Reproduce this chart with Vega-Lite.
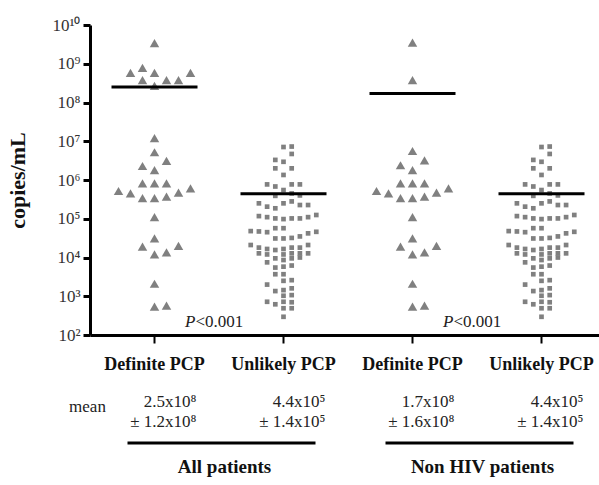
{
  "$schema": "https://vega.github.io/schema/vega-lite/v6.json",
  "autosize": {"type": "none"},
  "padding": {"left": 90, "top": 25, "right": 0, "bottom": 150},
  "width": 516,
  "height": 310,
  "background": "white",
  "config": {"view": {"stroke": null}, "font": "Liberation Serif"},
  "datasets": {
    "tri": [
      {"cat": "Def-All", "v": 3.4e9, "col": 0},
      {"cat": "Def-All", "v": 7.8e8, "col": -1},
      {"cat": "Def-All", "v": 5.8e8, "col": -2},
      {"cat": "Def-All", "v": 5.8e8, "col": 0},
      {"cat": "Def-All", "v": 5.8e8, "col": 3},
      {"cat": "Def-All", "v": 3.8e8, "col": -1},
      {"cat": "Def-All", "v": 3.8e8, "col": 1},
      {"cat": "Def-All", "v": 3.8e8, "col": 2},
      {"cat": "Def-All", "v": 2.7e8, "col": 0},
      {"cat": "Def-All", "v": 1.2e7, "col": 0},
      {"cat": "Def-All", "v": 5.2e6, "col": 0},
      {"cat": "Def-All", "v": 2.3e6, "col": -1},
      {"cat": "Def-All", "v": 3.1e6, "col": 1},
      {"cat": "Def-All", "v": 1.8e6, "col": 0},
      {"cat": "Def-All", "v": 8.2e5, "col": -1},
      {"cat": "Def-All", "v": 8.2e5, "col": 0},
      {"cat": "Def-All", "v": 8.2e5, "col": 1},
      {"cat": "Def-All", "v": 5.2e5, "col": -3},
      {"cat": "Def-All", "v": 4.5e5, "col": -2},
      {"cat": "Def-All", "v": 3.4e5, "col": -1},
      {"cat": "Def-All", "v": 3.4e5, "col": 0},
      {"cat": "Def-All", "v": 3.7e5, "col": 1},
      {"cat": "Def-All", "v": 4.7e5, "col": 2},
      {"cat": "Def-All", "v": 6.1e5, "col": 3},
      {"cat": "Def-All", "v": 1.1e5, "col": 0},
      {"cat": "Def-All", "v": 3.1e4, "col": 0},
      {"cat": "Def-All", "v": 1.9e4, "col": -1},
      {"cat": "Def-All", "v": 1.2e4, "col": 0},
      {"cat": "Def-All", "v": 1.36e4, "col": 1},
      {"cat": "Def-All", "v": 2.0e4, "col": 2},
      {"cat": "Def-All", "v": 2.1e3, "col": 0},
      {"cat": "Def-All", "v": 5.4e2, "col": 0},
      {"cat": "Def-All", "v": 5.7e2, "col": 1},
      {"cat": "Def-NH", "v": 3.5e9, "col": 0},
      {"cat": "Def-NH", "v": 3.8e8, "col": 0},
      {"cat": "Def-NH", "v": 5.6e6, "col": 0},
      {"cat": "Def-NH", "v": 2.4e6, "col": -1},
      {"cat": "Def-NH", "v": 3.2e6, "col": 1},
      {"cat": "Def-NH", "v": 1.8e6, "col": 0},
      {"cat": "Def-NH", "v": 8.2e5, "col": -1},
      {"cat": "Def-NH", "v": 8.2e5, "col": 0},
      {"cat": "Def-NH", "v": 8.2e5, "col": 1},
      {"cat": "Def-NH", "v": 5.2e5, "col": -3},
      {"cat": "Def-NH", "v": 4.5e5, "col": -2},
      {"cat": "Def-NH", "v": 3.4e5, "col": -1},
      {"cat": "Def-NH", "v": 3.4e5, "col": 0},
      {"cat": "Def-NH", "v": 3.7e5, "col": 1},
      {"cat": "Def-NH", "v": 4.7e5, "col": 2},
      {"cat": "Def-NH", "v": 6.1e5, "col": 3},
      {"cat": "Def-NH", "v": 1.1e5, "col": 0},
      {"cat": "Def-NH", "v": 3.1e4, "col": 0},
      {"cat": "Def-NH", "v": 1.9e4, "col": -1},
      {"cat": "Def-NH", "v": 1.2e4, "col": 0},
      {"cat": "Def-NH", "v": 1.36e4, "col": 1},
      {"cat": "Def-NH", "v": 2.0e4, "col": 2},
      {"cat": "Def-NH", "v": 2.1e3, "col": 0},
      {"cat": "Def-NH", "v": 5.4e2, "col": 0},
      {"cat": "Def-NH", "v": 5.7e2, "col": 1}
    ],
    "sq": [
      {"cat": "Unl-All", "v": 7.1e6, "col": 0}, {"cat": "Unl-All", "v": 7.3e6, "col": 1},
      {"cat": "Unl-All", "v": 4.7e6, "col": 1},
      {"cat": "Unl-All", "v": 3.3e6, "col": -1}, {"cat": "Unl-All", "v": 2.95e6, "col": 0},
      {"cat": "Unl-All", "v": 2.0e6, "col": -1}, {"cat": "Unl-All", "v": 2.0e6, "col": 1},
      {"cat": "Unl-All", "v": 1.35e6, "col": 0},
      {"cat": "Unl-All", "v": 7.7e5, "col": -2}, {"cat": "Unl-All", "v": 6.8e5, "col": -1}, {"cat": "Unl-All", "v": 7.7e5, "col": 1}, {"cat": "Unl-All", "v": 7.7e5, "col": 2},
      {"cat": "Unl-All", "v": 5.5e5, "col": 0}, {"cat": "Unl-All", "v": 3.9e5, "col": -1}, {"cat": "Unl-All", "v": 4.5e5, "col": 1}, {"cat": "Unl-All", "v": 4.0e5, "col": 2},
      {"cat": "Unl-All", "v": 2.5e5, "col": -3}, {"cat": "Unl-All", "v": 2.05e5, "col": -2}, {"cat": "Unl-All", "v": 1.86e5, "col": -1}, {"cat": "Unl-All", "v": 2.5e5, "col": 0}, {"cat": "Unl-All", "v": 2.8e5, "col": 1}, {"cat": "Unl-All", "v": 2.26e5, "col": 2}, {"cat": "Unl-All", "v": 2.26e5, "col": 3},
      {"cat": "Unl-All", "v": 1.17e5, "col": -3}, {"cat": "Unl-All", "v": 1.1e5, "col": -2}, {"cat": "Unl-All", "v": 1.02e5, "col": -1}, {"cat": "Unl-All", "v": 9.8e4, "col": 0}, {"cat": "Unl-All", "v": 1.02e5, "col": 1}, {"cat": "Unl-All", "v": 1.02e5, "col": 2}, {"cat": "Unl-All", "v": 1.1e5, "col": 3}, {"cat": "Unl-All", "v": 1.25e5, "col": 4},
      {"cat": "Unl-All", "v": 4.8e4, "col": -4}, {"cat": "Unl-All", "v": 4.7e4, "col": -3}, {"cat": "Unl-All", "v": 4.5e4, "col": -2}, {"cat": "Unl-All", "v": 5.7e4, "col": -1}, {"cat": "Unl-All", "v": 5.7e4, "col": 0},
      {"cat": "Unl-All", "v": 3.1e4, "col": -1}, {"cat": "Unl-All", "v": 3.1e4, "col": 0}, {"cat": "Unl-All", "v": 3.2e4, "col": 1}, {"cat": "Unl-All", "v": 3.5e4, "col": 2}, {"cat": "Unl-All", "v": 4.2e4, "col": 3}, {"cat": "Unl-All", "v": 4.6e4, "col": 4},
      {"cat": "Unl-All", "v": 2.1e4, "col": -4}, {"cat": "Unl-All", "v": 1.8e4, "col": -3}, {"cat": "Unl-All", "v": 1.66e4, "col": -2}, {"cat": "Unl-All", "v": 1.56e4, "col": -1}, {"cat": "Unl-All", "v": 1.66e4, "col": 0}, {"cat": "Unl-All", "v": 1.8e4, "col": 1}, {"cat": "Unl-All", "v": 1.8e4, "col": 2}, {"cat": "Unl-All", "v": 2.1e4, "col": 3},
      {"cat": "Unl-All", "v": 1.28e4, "col": -3}, {"cat": "Unl-All", "v": 1.2e4, "col": -2}, {"cat": "Unl-All", "v": 1.2e4, "col": 0}, {"cat": "Unl-All", "v": 1.28e4, "col": 1}, {"cat": "Unl-All", "v": 1.28e4, "col": 2}, {"cat": "Unl-All", "v": 1.28e4, "col": 3},
      {"cat": "Unl-All", "v": 7.5e3, "col": -2}, {"cat": "Unl-All", "v": 9.5e3, "col": -1}, {"cat": "Unl-All", "v": 8.6e3, "col": 0}, {"cat": "Unl-All", "v": 9.5e3, "col": 1}, {"cat": "Unl-All", "v": 1.0e4, "col": 2},
      {"cat": "Unl-All", "v": 5.5e3, "col": -1}, {"cat": "Unl-All", "v": 5.8e3, "col": 0}, {"cat": "Unl-All", "v": 6.2e3, "col": 1},
      {"cat": "Unl-All", "v": 3.7e3, "col": -1}, {"cat": "Unl-All", "v": 3.7e3, "col": 0},
      {"cat": "Unl-All", "v": 2.5e3, "col": 0}, {"cat": "Unl-All", "v": 2.6e3, "col": 1},
      {"cat": "Unl-All", "v": 2.0e3, "col": -2},
      {"cat": "Unl-All", "v": 1.36e3, "col": -1}, {"cat": "Unl-All", "v": 1.44e3, "col": 0}, {"cat": "Unl-All", "v": 1.6e3, "col": 1},
      {"cat": "Unl-All", "v": 1.03e3, "col": 0}, {"cat": "Unl-All", "v": 1.07e3, "col": 1},
      {"cat": "Unl-All", "v": 7.2e2, "col": -2}, {"cat": "Unl-All", "v": 6.2e2, "col": -1}, {"cat": "Unl-All", "v": 7.2e2, "col": 0}, {"cat": "Unl-All", "v": 7.0e2, "col": 1},
      {"cat": "Unl-All", "v": 4.9e2, "col": 0}, {"cat": "Unl-All", "v": 4.9e2, "col": 1},
      {"cat": "Unl-All", "v": 2.95e2, "col": 0},
      {"cat": "Unl-NH", "v": 7.1e6, "col": 0}, {"cat": "Unl-NH", "v": 7.3e6, "col": 1},
      {"cat": "Unl-NH", "v": 4.7e6, "col": 1},
      {"cat": "Unl-NH", "v": 3.3e6, "col": -1}, {"cat": "Unl-NH", "v": 2.95e6, "col": 0},
      {"cat": "Unl-NH", "v": 2.0e6, "col": -1}, {"cat": "Unl-NH", "v": 2.0e6, "col": 1},
      {"cat": "Unl-NH", "v": 1.35e6, "col": 0},
      {"cat": "Unl-NH", "v": 7.7e5, "col": -2}, {"cat": "Unl-NH", "v": 6.8e5, "col": -1}, {"cat": "Unl-NH", "v": 7.7e5, "col": 1}, {"cat": "Unl-NH", "v": 7.7e5, "col": 2},
      {"cat": "Unl-NH", "v": 5.5e5, "col": 0}, {"cat": "Unl-NH", "v": 3.9e5, "col": -1}, {"cat": "Unl-NH", "v": 4.5e5, "col": 1}, {"cat": "Unl-NH", "v": 4.0e5, "col": 2},
      {"cat": "Unl-NH", "v": 2.5e5, "col": -3}, {"cat": "Unl-NH", "v": 2.05e5, "col": -2}, {"cat": "Unl-NH", "v": 1.86e5, "col": -1}, {"cat": "Unl-NH", "v": 2.5e5, "col": 0}, {"cat": "Unl-NH", "v": 2.8e5, "col": 1}, {"cat": "Unl-NH", "v": 2.26e5, "col": 2}, {"cat": "Unl-NH", "v": 2.26e5, "col": 3},
      {"cat": "Unl-NH", "v": 1.17e5, "col": -3}, {"cat": "Unl-NH", "v": 1.1e5, "col": -2}, {"cat": "Unl-NH", "v": 1.02e5, "col": -1}, {"cat": "Unl-NH", "v": 9.8e4, "col": 0}, {"cat": "Unl-NH", "v": 1.02e5, "col": 1}, {"cat": "Unl-NH", "v": 1.02e5, "col": 2}, {"cat": "Unl-NH", "v": 1.1e5, "col": 3}, {"cat": "Unl-NH", "v": 1.25e5, "col": 4},
      {"cat": "Unl-NH", "v": 4.8e4, "col": -4}, {"cat": "Unl-NH", "v": 4.7e4, "col": -3}, {"cat": "Unl-NH", "v": 4.5e4, "col": -2}, {"cat": "Unl-NH", "v": 5.7e4, "col": -1}, {"cat": "Unl-NH", "v": 5.7e4, "col": 0},
      {"cat": "Unl-NH", "v": 3.1e4, "col": -1}, {"cat": "Unl-NH", "v": 3.1e4, "col": 0}, {"cat": "Unl-NH", "v": 3.2e4, "col": 1}, {"cat": "Unl-NH", "v": 3.5e4, "col": 2}, {"cat": "Unl-NH", "v": 4.2e4, "col": 3}, {"cat": "Unl-NH", "v": 4.6e4, "col": 4},
      {"cat": "Unl-NH", "v": 2.1e4, "col": -4}, {"cat": "Unl-NH", "v": 1.8e4, "col": -3}, {"cat": "Unl-NH", "v": 1.66e4, "col": -2}, {"cat": "Unl-NH", "v": 1.56e4, "col": -1}, {"cat": "Unl-NH", "v": 1.66e4, "col": 0}, {"cat": "Unl-NH", "v": 1.8e4, "col": 1}, {"cat": "Unl-NH", "v": 1.8e4, "col": 2}, {"cat": "Unl-NH", "v": 2.1e4, "col": 3},
      {"cat": "Unl-NH", "v": 1.28e4, "col": -3}, {"cat": "Unl-NH", "v": 1.2e4, "col": -2}, {"cat": "Unl-NH", "v": 1.2e4, "col": 0}, {"cat": "Unl-NH", "v": 1.28e4, "col": 1}, {"cat": "Unl-NH", "v": 1.28e4, "col": 2}, {"cat": "Unl-NH", "v": 1.28e4, "col": 3},
      {"cat": "Unl-NH", "v": 7.5e3, "col": -2}, {"cat": "Unl-NH", "v": 9.5e3, "col": -1}, {"cat": "Unl-NH", "v": 8.6e3, "col": 0}, {"cat": "Unl-NH", "v": 9.5e3, "col": 1}, {"cat": "Unl-NH", "v": 1.0e4, "col": 2},
      {"cat": "Unl-NH", "v": 5.5e3, "col": -1}, {"cat": "Unl-NH", "v": 5.8e3, "col": 0}, {"cat": "Unl-NH", "v": 6.2e3, "col": 1},
      {"cat": "Unl-NH", "v": 3.7e3, "col": -1}, {"cat": "Unl-NH", "v": 3.7e3, "col": 0},
      {"cat": "Unl-NH", "v": 2.5e3, "col": 0}, {"cat": "Unl-NH", "v": 2.6e3, "col": 1},
      {"cat": "Unl-NH", "v": 2.0e3, "col": -2},
      {"cat": "Unl-NH", "v": 1.36e3, "col": -1}, {"cat": "Unl-NH", "v": 1.44e3, "col": 0}, {"cat": "Unl-NH", "v": 1.6e3, "col": 1},
      {"cat": "Unl-NH", "v": 1.03e3, "col": 0}, {"cat": "Unl-NH", "v": 1.07e3, "col": 1},
      {"cat": "Unl-NH", "v": 7.2e2, "col": -2}, {"cat": "Unl-NH", "v": 6.2e2, "col": -1}, {"cat": "Unl-NH", "v": 7.2e2, "col": 0}, {"cat": "Unl-NH", "v": 7.0e2, "col": 1},
      {"cat": "Unl-NH", "v": 4.9e2, "col": 0}, {"cat": "Unl-NH", "v": 4.9e2, "col": 1},
      {"cat": "Unl-NH", "v": 2.95e2, "col": 0}
    ],
    "means": [
      {"cat": "Def-All", "m": 2.5e8},
      {"cat": "Unl-All", "m": 4.4e5},
      {"cat": "Def-NH", "m": 1.7e8},
      {"cat": "Unl-NH", "m": 4.4e5}
    ],
    "vals": [
      {"cat": "Def-All", "line": 1, "t": "2.5x10⁸"},
      {"cat": "Def-All", "line": 2, "t": "± 1.2x10⁸"},
      {"cat": "Unl-All", "line": 1, "t": "4.4x10⁵"},
      {"cat": "Unl-All", "line": 2, "t": "± 1.4x10⁵"},
      {"cat": "Def-NH", "line": 1, "t": "1.7x10⁸"},
      {"cat": "Def-NH", "line": 2, "t": "± 1.6x10⁸"},
      {"cat": "Unl-NH", "line": 1, "t": "4.4x10⁵"},
      {"cat": "Unl-NH", "line": 2, "t": "± 1.4x10⁵"}
    ],
    "meanword": [{"cat": "Def-All", "line": 1.25, "t": "mean"}],
    "groups": [
      {"from": "Def-All", "to": "Unl-All", "line": 4.25, "rline": 3.05, "t": "All patients"},
      {"from": "Def-NH", "to": "Unl-NH", "line": 4.25, "rline": 3.05, "t": "Non HIV patients"}
    ],
    "pv": [
      {"cat": "Def-All", "line": -3, "p": "P", "rest": "<0.001"},
      {"cat": "Def-NH", "line": -3, "p": "P", "rest": "<0.001"}
    ]
  },
  "layer": [
    {
      "layer": [
        {
          "data": {"name": "tri"},
          "mark": {"type": "point", "shape": "triangle-up", "filled": true, "size": 90, "color": "#808080", "opacity": 1},
          "encoding": {
            "x": {
              "field": "cat", "type": "nominal",
              "scale": {"type": "band", "domain": ["Def-All", "Unl-All", "Def-NH", "Unl-NH"], "paddingInner": 0, "paddingOuter": 0},
              "axis": {
                "title": null,
                "labelExpr": "indexof(datum.value, 'Def') == 0 ? 'Definite PCP' : 'Unlikely PCP'",
                "labelAngle": 0,
                "labelFont": "Liberation Serif",
                "labelFontWeight": "bold",
                "labelFontSize": 18,
                "labelColor": "#111",
                "labelPadding": 12,
                "labelDx": -10,
                "tickSize": 8,
                "tickWidth": 2,
                "tickColor": "#000",
                "domainWidth": 3,
                "domainColor": "#000",
                "grid": false
              }
            },
            "xOffset": {"field": "col", "type": "quantitative", "scale": {"domain": [-5.375, 5.375]}},
            "y": {
              "field": "v", "type": "quantitative",
              "scale": {"type": "log", "domain": [100, 10000000000], "nice": false},
              "axis": {
                "title": "copies/mL",
                "titleFont": "Liberation Serif",
                "titleFontSize": 22,
                "titleFontWeight": "bold",
                "titleColor": "#111",
                "titlePadding": 22,
                "values": [100, 1000, 10000, 100000, 1000000, 10000000, 100000000, 1000000000, 10000000000],
                "labelExpr": "['1','10','10²','10³','10⁴','10⁵','10⁶','10⁷','10⁸','10⁹','10¹⁰'][round(log(datum.value)/LN10)]",
                "labelFont": "Liberation Serif",
                "labelFontSize": 17,
                "labelColor": "#333",
                "labelPadding": 3,
                "tickSize": 7,
                "tickWidth": 3,
                "tickColor": "#000",
                "domainWidth": 3,
                "domainColor": "#000",
                "grid": false
              }
            }
          }
        },
        {
          "data": {"name": "sq"},
          "mark": {"type": "point", "shape": "square", "filled": true, "size": 22, "color": "#808080", "opacity": 1},
          "encoding": {
            "x": {"field": "cat", "type": "nominal"},
            "xOffset": {"field": "col", "type": "quantitative", "scale": {"domain": [-7.87, 7.87]}},
            "y": {"field": "v", "type": "quantitative"}
          }
        },
        {
          "data": {"name": "means"},
          "mark": {"type": "tick", "orient": "horizontal", "size": 86, "thickness": 3, "color": "#000", "opacity": 1},
          "encoding": {
            "x": {"field": "cat", "type": "nominal"},
            "y": {"field": "m", "type": "quantitative"}
          }
        }
      ],
      "resolve": {"scale": {"xOffset": "independent"}}
    },
    {
      "layer": [
        {
          "data": {"name": "vals"},
          "mark": {"type": "text", "align": "right", "dx": 42, "fontSize": 17, "font": "Liberation Serif", "color": "#222"},
          "encoding": {
            "x": {"field": "cat", "type": "nominal"},
            "y": {"field": "line", "type": "quantitative", "scale": {"domain": [0, 5], "range": [357, 457], "zero": false, "nice": false}, "axis": null},
            "text": {"field": "t"}
          }
        },
        {
          "data": {"name": "meanword"},
          "mark": {"type": "text", "align": "center", "dx": -67, "fontSize": 17, "font": "Liberation Serif", "color": "#222"},
          "encoding": {
            "x": {"field": "cat", "type": "nominal"},
            "y": {"field": "line", "type": "quantitative"},
            "text": {"field": "t"}
          }
        },
        {
          "data": {"name": "groups"},
          "mark": {"type": "rule", "strokeWidth": 3, "color": "#000", "xOffset": -27, "x2Offset": 32},
          "encoding": {
            "x": {"field": "from", "type": "nominal"},
            "x2": {"field": "to"},
            "y": {"field": "rline", "type": "quantitative"}
          }
        },
        {
          "data": {"name": "groups"},
          "mark": {"type": "text", "align": "center", "dx": 70, "fontSize": 19, "fontWeight": "bold", "font": "Liberation Serif", "color": "#111"},
          "encoding": {
            "x": {"field": "from", "type": "nominal"},
            "y": {"field": "line", "type": "quantitative"},
            "text": {"field": "t"}
          }
        },
        {
          "data": {"name": "pv"},
          "mark": {"type": "text", "align": "right", "dx": 41, "fontSize": 17, "fontStyle": "italic", "font": "Liberation Serif", "color": "#222"},
          "encoding": {
            "x": {"field": "cat", "type": "nominal"},
            "y": {"field": "line", "type": "quantitative"},
            "text": {"field": "p"}
          }
        },
        {
          "data": {"name": "pv"},
          "mark": {"type": "text", "align": "left", "dx": 41, "fontSize": 17, "font": "Liberation Serif", "color": "#222"},
          "encoding": {
            "x": {"field": "cat", "type": "nominal"},
            "y": {"field": "line", "type": "quantitative"},
            "text": {"field": "rest"}
          }
        }
      ]
    }
  ],
  "resolve": {"scale": {"y": "independent"}}
}
